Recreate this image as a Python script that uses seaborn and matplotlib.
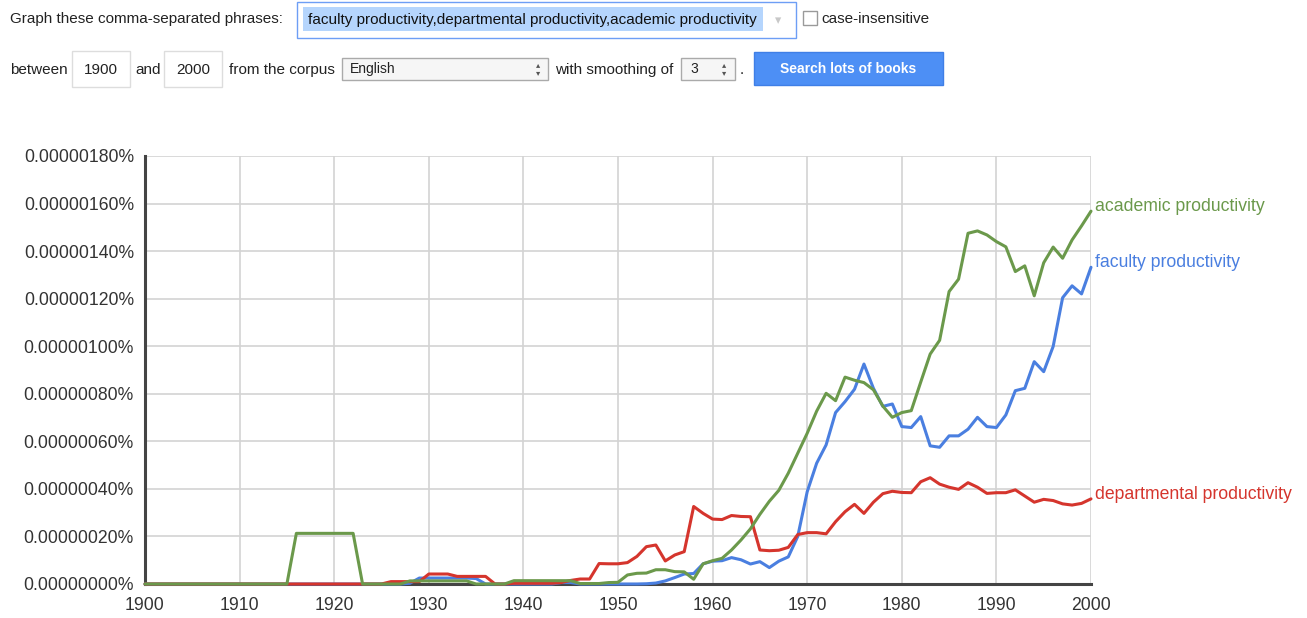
import pandas as pd
import seaborn as sns
import matplotlib.pyplot as plt
from matplotlib.patches import Rectangle

# --- data (values in units of 0.00000001 %) ---

years = list(range(1900, 2001))

faculty = [
    0, 0, 0, 0, 0, 0, 0, 0, 0, 0,
    0, 0, 0, 0, 0, 0, 0, 0, 0, 0,
    0, 0, 0, 0, 0, 0, 0, 0, 0.3, 2.5,
    2.5, 2.5, 2.5, 2.5, 2.5, 2.3, 0, 0, 0, 0,
    0, 0, 0, 0, 0.6, 0.6, 0, 0, 0, 0,
    0, 0, 0, 0.1, 0.4, 1.3, 2.7, 4.2, 4.4, 8.5,
    9.6, 9.8, 11.1, 10.2, 8.4, 9.4, 6.9, 9.6, 11.4, 20.0,
    38.8, 50.8, 58.5, 72.1, 76.7, 81.9, 92.5, 82.3, 74.7, 75.7,
    66.2, 65.8, 70.4, 58.1, 57.5, 62.3, 62.3, 65.1, 70.1, 66.2,
    65.8, 71.1, 81.3, 82.3, 93.5, 89.3, 99.9, 120.4, 125.4, 122.0,
    133.2,
]

departmental = [
    0, 0, 0, 0, 0, 0, 0, 0, 0, 0,
    0, 0, 0, 0, 0, 0, 0, 0, 0, 0,
    0, 0, 0, 0, 0, 0, 1.0, 1.0, 1.0, 1.0,
    4.2, 4.2, 4.2, 3.2, 3.2, 3.2, 3.2, 0, 0, 0.3,
    0.3, 0.3, 0.3, 0.3, 0.6, 1.5, 2.1, 2.1, 8.6, 8.5,
    8.5, 9.0, 11.6, 15.7, 16.4, 9.7, 12.2, 13.6, 32.6, 29.7,
    27.3, 27.1, 28.8, 28.4, 28.3, 14.3, 14.0, 14.2, 15.4, 20.8,
    21.6, 21.6, 21.1, 26.2, 30.4, 33.5, 29.7, 34.4, 38.0, 39.0,
    38.5, 38.4, 43.0, 44.7, 42.0, 40.7, 39.8, 42.6, 40.7, 38.1,
    38.4, 38.4, 39.6, 37.0, 34.4, 35.6, 35.1, 33.7, 33.2, 33.9,
    35.8,
]

academic = [
    0, 0, 0, 0, 0, 0, 0, 0, 0, 0,
    0, 0, 0, 0, 0, 0, 21.3, 21.3, 21.3, 21.3,
    21.3, 21.3, 21.3, 0, 0, 0, 0, 0, 1.3, 1.3,
    1.3, 1.3, 1.3, 1.3, 1.3, 0, 0, 0, 0, 1.4,
    1.4, 1.4, 1.4, 1.4, 1.4, 1.4, 0.2, 0.2, 0.2, 0.6,
    0.7, 3.8, 4.5, 4.6, 6.0, 6.0, 5.2, 5.1, 2.0, 8.5,
    9.8, 10.8, 14.3, 18.5, 23.2, 29.3, 34.8, 39.4, 46.6, 55.0,
    63.4, 72.7, 80.2, 77.1, 87.0, 85.7, 84.7, 81.7, 74.8, 70.1,
    72.1, 72.9, 84.9, 96.7, 102.5, 123.0, 128.2, 147.5, 148.5, 146.8,
    144.0, 141.8, 131.4, 133.8, 121.2, 135.1, 141.7, 137.0, 144.7, 150.6,
    156.8,
]

phrases = ["faculty productivity", "departmental productivity", "academic productivity"]
line_colors = ["#4a7fe0", "#d5352d", "#6b994b"]
y_ticks = [0, 20, 40, 60, 80, 100, 120, 140, 160, 180]
x_ticks = [1900, 1910, 1920, 1930, 1940, 1950, 1960, 1970, 1980, 1990, 2000]

# long format table for seaborn
df = pd.DataFrame({
    "year": years * 3,
    "freq": faculty + departmental + academic,
    "phrase": [p for p in phrases for _ in years],
})

sns.set_style("white")
plt.rcParams["font.family"] = ["Liberation Sans", "DejaVu Sans"]

W, H = 1307, 618
fig = plt.figure(figsize=(W / 100, H / 100), dpi=100)


# helpers to place the form widgets in screen pixels (top-left origin)
def box(x, y, w, h, face="white", edge="#cccccc", lw=1.0):
    fig.add_artist(Rectangle((x / W, 1 - (y + h) / H), w / W, h / H,
                             transform=fig.transFigure, facecolor=face,
                             edgecolor=edge, linewidth=lw))


def label(x, y, s, **kw):
    kw.setdefault("fontsize", 11)
    kw.setdefault("color", "#222222")
    kw.setdefault("va", "center")
    fig.text(x / W, 1 - y / H, s, **kw)


# --- query form on top ---
label(10, 19, "Graph these comma-separated phrases:")
box(297, 2, 499, 36, edge="#6d9ef5", lw=1.0)
box(303, 7, 460, 24, face="#b5d5fd", edge="none", lw=0)
label(308, 20, "faculty productivity,departmental productivity,academic productivity", color="#111111")
label(778, 21, "\u25be", color="#c8c8c8", fontsize=9, family="DejaVu Sans", ha="center")
box(803, 11, 14, 14, edge="#9a9a9a")
label(821, 19, "case-insensitive")

label(10, 70, "between")
box(72, 51, 58, 36, edge="#dddddd")
label(101, 70, "1900", ha="center")
label(135, 70, "and")
box(164, 51, 58, 36, edge="#dddddd")
label(193, 70, "2000", ha="center")
label(229, 70, "from the corpus")
box(342, 58, 206, 22, face="#f6f6f6", edge="#aaaaaa")
label(350, 69, "English", fontsize=10)
label(538, 65, "\u25b4", fontsize=6, family="DejaVu Sans", ha="center", color="#555555")
label(538, 73, "\u25be", fontsize=6, family="DejaVu Sans", ha="center", color="#555555")
label(555, 70, "with smoothing of")
box(681, 58, 54, 22, face="#f6f6f6", edge="#aaaaaa")
label(690, 69, "3", fontsize=10)
label(724, 65, "\u25b4", fontsize=6, family="DejaVu Sans", ha="center", color="#555555")
label(724, 73, "\u25be", fontsize=6, family="DejaVu Sans", ha="center", color="#555555")
label(740, 70, ".")
box(754, 52, 189, 33, face="#4d8ff5", edge="#3f7fe6")
label(848, 69, "Search lots of books", color="white", fontweight="bold", fontsize=10, ha="center")

# --- the chart ---
ax = fig.add_axes([145 / W, 1 - 584 / H, 946 / W, 428 / H])
sns.lineplot(data=df, x="year", y="freq", hue="phrase", hue_order=phrases,
             palette=dict(zip(phrases, line_colors)), linewidth=2.2,
             legend=False, ax=ax, zorder=3)
for ln in ax.lines:
    ln.set_clip_on(False)

ax.set_xlim(1900, 2000)
ax.set_ylim(0, 180)
ax.set_xticks(x_ticks)
ax.set_yticks(y_ticks)
ax.set_yticklabels([f"{v * 1e-8:.8f}%" for v in y_ticks])
ax.set_xlabel("")
ax.set_ylabel("")

ax.grid(True, color="#d3d3d3", linewidth=1.2)
ax.set_axisbelow(True)
for side in ["top", "right"]:
    ax.spines[side].set_visible(False)
for side in ["left", "bottom"]:
    ax.spines[side].set_color("#444444")
    ax.spines[side].set_linewidth(2.2)
ax.tick_params(length=5, width=2, color="#444444", labelsize=12.7,
               labelcolor="#333333", pad=3)
ax.tick_params(axis="x", pad=4)

# series names at the right end of each line
for name, vals, c in zip(phrases, [faculty, departmental, academic], line_colors):
    ax.annotate(name, xy=(2000, vals[-1]), xytext=(3, 3.5), textcoords="offset points",
                color=c, fontsize=12.7, va="center", ha="left", annotation_clip=False)

plt.savefig("out.png", dpi=100)
plt.close()
